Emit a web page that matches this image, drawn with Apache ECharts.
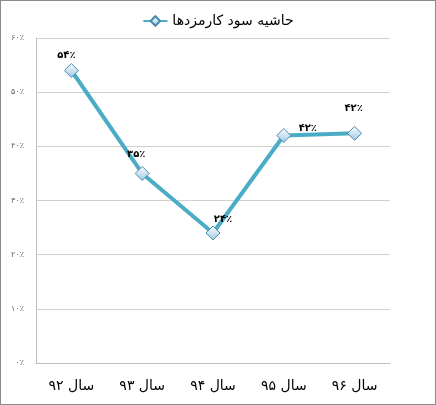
<!DOCTYPE html>
<html><head><meta charset="utf-8">
<script src="https://cdn.jsdelivr.net/npm/echarts@6/dist/echarts.min.js"></script>
<style>html,body{margin:0;padding:0;background:#fff}#c{width:436px;height:405px;box-sizing:border-box;border:1px solid #8c8c8c}</style>
</head><body><div id="c"></div>
<script>
var categories = ['سال ۹۲','سال ۹۳','سال ۹۴','سال ۹۵','سال ۹۶'];
var seriesName = 'حاشیه سود کارمزدها';
var values = [54, 35, 24, 42, 42.4];
var valueLabels = ['۵۴٪','۳۵٪','۲۴٪','۴۲٪','۴۲٪'];
var yTicks = [0,10,20,30,40,50,60];
var yTickLabels = ['۰٪','۱۰٪','۲۰٪','۳۰٪','۴۰٪','۵۰٪','۶۰٪'];
var labelOffsets = [[-5,2],[-6,-2],[10,4],[24,10],[-1,-7]];

var chart = echarts.init(document.getElementById('c'));
chart.setOption({
  animation:false,
  textStyle:{fontFamily:'DejaVu Sans'},
  legend:{top:8,left:'center',data:[seriesName],itemWidth:24,itemHeight:12,
    textStyle:{fontSize:14,color:'#000',fontFamily:'DejaVu Sans'}},
  grid:{left:35,right:45,top:37,bottom:41},
  xAxis:{type:'category',data:categories,boundaryGap:true,
    axisLine:{lineStyle:{color:'#bfbfbf'}},axisTick:{show:false},
    axisLabel:{fontSize:14,color:'#000',margin:16,fontFamily:'DejaVu Sans'}},
  yAxis:{type:'value',min:0,max:60,interval:10,
    axisLine:{show:true,lineStyle:{color:'#bfbfbf'}},axisTick:{show:false},
    splitLine:{lineStyle:{color:'#d0d0d0'}},
    axisLabel:{fontSize:8,color:'#666',margin:12,formatter:function(v){return yTickLabels[yTicks.indexOf(v)];}}},
  series:[{name:seriesName,type:'line',
    data:values.map(function(v,i){return {value:v,label:{offset:labelOffsets[i]}};}),
    symbol:'diamond',symbolSize:14,
    lineStyle:{color:'#4BACC6',width:4},
    itemStyle:{color:new echarts.graphic.LinearGradient(0,0,0,1,[{offset:0,color:'#ffffff'},{offset:1,color:'#9cc7e4'}]),borderColor:'#4a8ab0',borderWidth:1},
    label:{show:true,position:'top',fontSize:10,fontWeight:'bold',color:'#000',
      formatter:function(p){return valueLabels[p.dataIndex];}}
  }]
});
</script></body></html>
